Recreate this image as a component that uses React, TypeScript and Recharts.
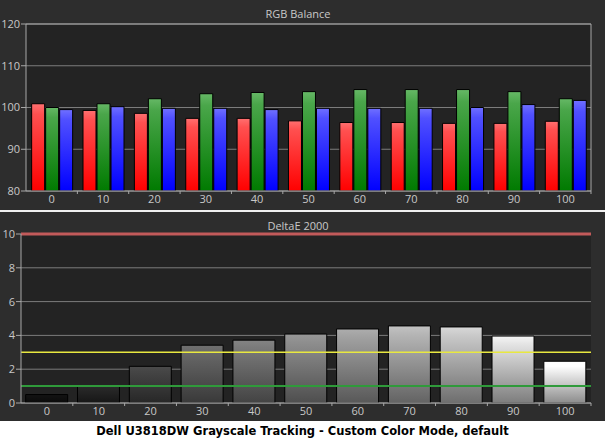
import React from 'react'
import { BarChart, Bar, XAxis, YAxis, CartesianGrid, ReferenceLine, Cell } from 'recharts'

const levels = ['0', '10', '20', '30', '40', '50', '60', '70', '80', '90', '100']
const redBalance = [100.9, 99.3, 98.6, 97.4, 97.4, 96.8, 96.4, 96.4, 96.2, 96.2, 96.7]
const greenBalance = [100.0, 100.9, 102.1, 103.3, 103.6, 103.8, 104.3, 104.3, 104.3, 103.8, 102.1]
const blueBalance = [99.5, 100.2, 99.8, 99.8, 99.5, 99.8, 99.8, 99.8, 100.0, 100.7, 101.7]
const deltaE = [0.5, 0.98, 2.17, 3.42, 3.72, 4.08, 4.38, 4.56, 4.5, 3.96, 2.47]

const rgbTicks = [80, 90, 100, 110, 120]
const deTicks = [0, 2, 4, 6, 8, 10]

// grey shade of each stimulus bar, black to white
const greys = [18, 40, 70, 104, 122, 142, 160, 180, 200, 228, 255]

const rgbData = levels.map((level, i) => ({
  level,
  red: redBalance[i],
  green: greenBalance[i],
  blue: blueBalance[i],
}))
const deData = levels.map((level, i) => ({ level, de: deltaE[i] }))

const FONT = '"Open Sans", "Noto Sans", sans-serif'
const TXT = '#c8c8c8'
const AXIS = '#a8a8a8'

function shade(v: number, k: number) {
  const c = Math.max(0, Math.min(255, Math.round(v * k)))
  return `rgb(${c},${c},${c})`
}

function BandTick(props: any) {
  const { x, y, payload, dy } = props
  const off = payload.offset || 0
  return (
    <g>
      <text x={x} y={y + (dy || 12)} textAnchor="middle" fill={TXT} fontSize={11} fontFamily={FONT}>
        {payload.value}
      </text>
      <line x1={x + off} x2={x + off} y1={y} y2={y + 3} stroke={AXIS} />
    </g>
  )
}

function Grad({ id, top, mid, bottom }: { id: string; top: string; mid: string; bottom: string }) {
  return (
    <linearGradient id={id} x1="0" y1="0" x2="0" y2="1">
      <stop offset="0%" stopColor={top} />
      <stop offset="12%" stopColor={mid} />
      <stop offset="100%" stopColor={bottom} />
    </linearGradient>
  )
}

export default function App() {
  return (
    <div style={{ position: 'absolute', left: 0, top: 0, width: 605, height: 441, background: '#2d2d2d', overflow: 'hidden' }}>
      <div style={{ position: 'absolute', left: 0, top: 7, width: 596, textAlign: 'center', color: TXT, fontSize: 11, fontFamily: FONT, lineHeight: '14px' }}>
        RGB Balance
      </div>
      <div style={{ position: 'absolute', left: 0, top: 0 }}>
        <BarChart width={605} height={210} data={rgbData} margin={{ top: 24, right: 14, bottom: 0, left: 0 }} barCategoryGap="11%" barGap={1}>
          <defs>
            <Grad id="gR" top="#ff7070" mid="#ff5050" bottom="#ff0000" />
            <Grad id="gG" top="#66b866" mid="#4aa64a" bottom="#007a00" />
            <Grad id="gB" top="#7070ff" mid="#5050ff" bottom="#0000ff" />
          </defs>
          <CartesianGrid vertical={false} stroke="#7c7c7c" fill="#232323" />
          <XAxis dataKey="level" height={19} interval={0} tickSize={0} tickMargin={0} tickLine={false} axisLine={{ stroke: AXIS }} tick={<BandTick dy={12} />} />
          <YAxis domain={[80, 120]} ticks={rgbTicks} allowDataOverflow width={26} tickSize={5} tickMargin={1} tickLine={{ stroke: AXIS }} axisLine={{ stroke: AXIS }} tick={{ fill: TXT, fontSize: 11, fontFamily: FONT }} />
          <ReferenceLine y={120} stroke={AXIS} />
          <ReferenceLine x="100" position="end" stroke={AXIS} />
          <Bar dataKey="red" fill="url(#gR)" stroke="#000" strokeWidth={1} isAnimationActive={false} />
          <Bar dataKey="green" fill="url(#gG)" stroke="#000" strokeWidth={1} isAnimationActive={false} />
          <Bar dataKey="blue" fill="url(#gB)" stroke="#000" strokeWidth={1} isAnimationActive={false} />
        </BarChart>
      </div>
      <div style={{ position: 'absolute', left: 0, top: 210, width: 605, height: 2, background: '#f0f0f0' }} />
      <div style={{ position: 'absolute', left: 0, top: 219, width: 596, textAlign: 'center', color: TXT, fontSize: 11, fontFamily: FONT, lineHeight: '14px' }}>
        DeltaE 2000
      </div>
      <div style={{ position: 'absolute', left: 0, top: 212 }}>
        <BarChart width={605} height={209} data={deData} margin={{ top: 22, right: 14, bottom: 0, left: 0 }} barCategoryGap="9%">
          <defs>
            {greys.map((g, i) => (
              <Grad key={i} id={`gy${i}`} top={shade(g, 1.08)} mid={shade(g, 1.0)} bottom={shade(g, 0.55)} />
            ))}
          </defs>
          <CartesianGrid vertical={false} stroke="#7c7c7c" fill="#232323" />
          <XAxis dataKey="level" height={18} interval={0} tickSize={0} tickMargin={0} tickLine={false} axisLine={{ stroke: AXIS }} tick={<BandTick dy={12} />} />
          <YAxis domain={[0, 10]} ticks={deTicks} allowDataOverflow width={21} tickSize={5} tickMargin={1} tickLine={{ stroke: AXIS }} axisLine={{ stroke: AXIS }} tick={{ fill: TXT, fontSize: 11, fontFamily: FONT }} />
          <ReferenceLine x="100" position="end" stroke={AXIS} />
          <Bar dataKey="de" stroke="#000" strokeWidth={1} isAnimationActive={false}>
            {deData.map((d, i) => (
              <Cell key={d.level} fill={`url(#gy${i})`} />
            ))}
          </Bar>
          <ReferenceLine y={10} stroke="#c25a5a" strokeWidth={3} />
          <ReferenceLine y={3} stroke="#e8e840" strokeWidth={1.5} />
          <ReferenceLine y={1} stroke="#2f9a3a" strokeWidth={2} />
        </BarChart>
      </div>
      <div style={{ position: 'absolute', left: 0, top: 421, width: 605, height: 20, background: '#ffffff', textAlign: 'center', color: '#000', fontSize: 11.5, fontWeight: 'bold', fontFamily: '"DejaVu Sans", sans-serif', lineHeight: '20px' }}>
        Dell U3818DW Grayscale Tracking - Custom Color Mode, default
      </div>
    </div>
  )
}
